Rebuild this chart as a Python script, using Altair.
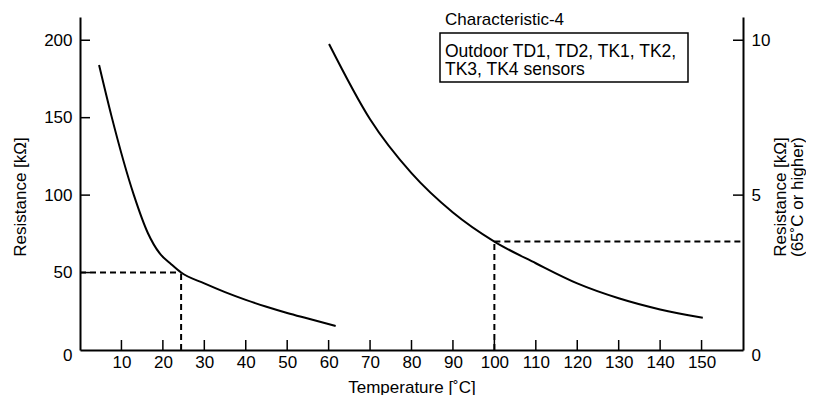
import altair as alt
import pandas as pd

# ---- data ----
# left curve (left axis, kOhm)
left_T = [4.6, 7.6, 13.0, 16.4, 19.2, 22.0, 24.4, 30.0, 35.0, 40.0, 45.0, 50.0, 55.0, 61.7]
left_R = [184.0, 151.0, 100.0, 75.4, 62.5, 55.4, 50.0, 43.0, 37.4, 32.4, 27.9, 23.9, 20.3, 15.5]
# right curve (right axis, kOhm, 65C or higher)
right_T = [60.1, 70, 80, 90, 100, 110, 120, 130, 140, 150.3]
right_R = [9.88, 7.45, 5.71, 4.44, 3.5, 2.80, 2.15, 1.67, 1.31, 1.04]
# reference (dashed) points
left_ref_T, left_ref_R = 24.4, 50.0
right_ref_T, right_ref_R = 100.0, 3.5
# ticks
x_ticks = [10, 20, 30, 40, 50, 60, 70, 80, 90, 100, 110, 120, 130, 140, 150]
yl_ticks = [0, 50, 100, 150, 200]
yr_ticks = [0, 5, 10]
x_domain = [0, 160]
yl_domain = [0, 215]
yr_domain = [0, 10.75]
note_title = "Characteristic-4"
note_lines = ["Outdoor TD1, TD2, TK1, TK2,", "TK3, TK4 sensors"]

W, H = 663, 333
FONT = "Liberation Sans"
FS = 17
TICK = 10

zero_off = {"condition": {"test": "datum.value === 0", "value": 5}, "value": 0}

x_axis = alt.Axis(values=x_ticks, title="Temperature [˚C]", ticks=False, grid=False,
                  domainColor="black", domainWidth=2, labelPadding=4,
                  titleY=37, titleBaseline="middle")
yl_axis = alt.Axis(values=yl_ticks, title="Resistance [kΩ]", ticks=False, grid=False,
                   domainColor="black", domainWidth=2, labelPadding=8,
                   titleAngle=270, titleX=-60, titleY=179.5, titleBaseline="middle",
                   titleAlign="center", labelOffset=zero_off)
yr_axis = alt.Axis(values=yr_ticks, orient="right",
                   title=["Resistance [kΩ]", "(65˚C or higher)"], ticks=False, grid=False,
                   domainColor="black", domainWidth=2, labelPadding=8,
                   titleAngle=270, titleX=37, titleY=179.5, titleBaseline="middle",
                   titleAlign="center", titleLineHeight=17, labelOffset=zero_off)

xs = alt.Scale(domain=x_domain, nice=False, zero=False)
yls = alt.Scale(domain=yl_domain, nice=False)
yrs = alt.Scale(domain=yr_domain, nice=False)


def X(field):
    return alt.X(field, type="quantitative", scale=xs, axis=x_axis)


def YL(field):
    return alt.Y(field, type="quantitative", scale=yls, axis=yl_axis)


def YR(field):
    return alt.Y(field, type="quantitative", scale=yrs, axis=yr_axis)


left_df = pd.DataFrame({"T": left_T, "R": left_R})
right_df = pd.DataFrame({"T": right_T, "R": right_R})

left_curve = alt.Chart(left_df).mark_line(color="black", strokeWidth=2, interpolate="monotone").encode(
    x=X("T"), y=YL("R"))
right_curve = alt.Chart(right_df).mark_line(color="black", strokeWidth=2, interpolate="monotone").encode(
    x=X("T"), y=YR("R"))

dash = dict(color="black", strokeWidth=2, strokeDash=[6, 4])

ldh = alt.Chart(pd.DataFrame({"x0": [x_domain[0]], "x1": [left_ref_T], "y": [left_ref_R]})).mark_rule(**dash).encode(
    x=X("x0"), x2="x1", y=YL("y"))
ldv = alt.Chart(pd.DataFrame({"x": [left_ref_T], "y0": [0], "y1": [left_ref_R]})).mark_rule(**dash).encode(
    x=X("x"), y=YL("y0"), y2="y1")
rdh = alt.Chart(pd.DataFrame({"x0": [right_ref_T], "x1": [x_domain[1]], "y": [right_ref_R]})).mark_rule(**dash).encode(
    x=X("x0"), x2="x1", y=YR("y"))
rdv = alt.Chart(pd.DataFrame({"x": [right_ref_T], "y0": [0], "y1": [right_ref_R]})).mark_rule(**dash).encode(
    x=X("x"), y=YR("y0"), y2="y1")

# inward ticks
bt = alt.Chart(pd.DataFrame({"v": x_ticks})).mark_rule(color="black", strokeWidth=1.5).encode(
    x=X("v"), y=alt.value(H), y2=alt.value(H - TICK))
lt = alt.Chart(pd.DataFrame({"v": [v for v in yl_ticks if v > 0]})).mark_rule(color="black", strokeWidth=1.5).encode(
    y=YL("v"), x=alt.value(0), x2=alt.value(TICK))
rt = alt.Chart(pd.DataFrame({"v": [v for v in yr_ticks if v > 0]})).mark_rule(color="black", strokeWidth=1.5).encode(
    y=YR("v"), x=alt.value(W - TICK), x2=alt.value(W))

# annotation
one = pd.DataFrame({"a": [0]})
box = alt.Chart(one).mark_rect(fill="white", stroke="black", strokeWidth=1.5).encode(
    x=alt.value(360), x2=alt.value(608), y=alt.value(16), y2=alt.value(65))
title_txt = alt.Chart(one).mark_text(align="left", baseline="middle", font=FONT, fontSize=FS, color="black").encode(
    x=alt.value(365), y=alt.value(3), text=alt.value(note_title))
box_txt = alt.Chart(one).mark_text(align="left", baseline="top", font=FONT, fontSize=17.5, color="black",
                                   lineHeight=18).encode(
    x=alt.value(365), y=alt.value(25.5), text=alt.value(note_lines))

left = alt.layer(left_curve, ldh, ldv, lt, bt, box, title_txt, box_txt)
right = alt.layer(right_curve, rdh, rdv, rt)

chart = alt.layer(left, right).resolve_scale(y="independent").properties(
    width=W, height=H,
    autosize=alt.AutoSizeParams(type="none"),
    padding={"left": 72, "top": 9, "right": 63, "bottom": 45},
).configure_view(stroke=None).configure_axis(
    labelFont=FONT, titleFont=FONT, labelFontSize=FS, titleFontSize=FS,
    labelColor="black", titleColor="black", titleFontWeight="normal",
)

chart.save("out.html", embed_options={"renderer": "svg", "actions": False})
